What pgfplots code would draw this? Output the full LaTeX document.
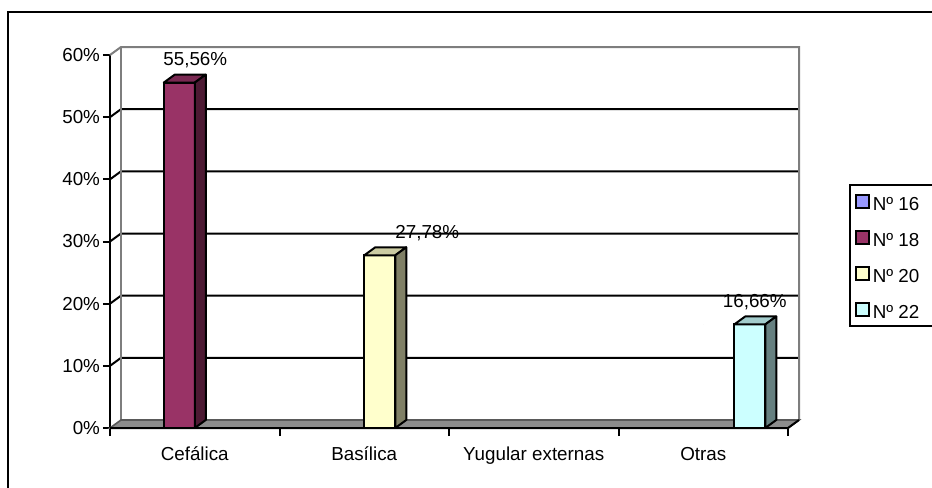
\documentclass[border=0pt]{standalone}
\usepackage{fontspec}
\setmainfont{Liberation Sans}
\usepackage{pgfplots}
\pgfplotsset{compat=1.18}

\definecolor{c16}{HTML}{9999FF}
\definecolor{c18}{HTML}{993366}
\definecolor{c18top}{HTML}{7A2952}
\definecolor{c18side}{HTML}{4D1A33}
\definecolor{c20}{HTML}{FFFFCC}
\definecolor{c20top}{HTML}{CCCCA3}
\definecolor{c20side}{HTML}{808066}
\definecolor{c22}{HTML}{CCFFFF}
\definecolor{c22top}{HTML}{A3CCCC}
\definecolor{c22side}{HTML}{668080}
\definecolor{wall}{HTML}{8C8C8C}

% depth of the walls and of the columns
\tikzset{dep/.style={shift={(5.5bp,4bp)}}}

\pgfplotsset{
  % top and side faces of a column, drawn at the column's top point
  prism/.style n args={3}{%
    forget plot, only marks, scatter, mark=*, mark size=0pt,
    mark options={draw=none, fill=none},
    visualization depends on={rawy \as \ry},
    scatter/@pre marker code/.code={%
      \pgfmathsetlengthmacro\hh{\ry*3.108333bp}%
      \pgfmathsetlengthmacro\xa{#1-7.75bp}%
      \pgfmathsetlengthmacro\xb{#1+7.75bp}%
      \pgfmathsetlengthmacro\xc{#1+13.25bp}%
      \pgfmathsetlengthmacro\xd{#1-2.25bp}%
      \pgfmathsetlengthmacro\yb{4bp-\hh}%
      \filldraw[fill=#2, draw=black, line width=1bp, line join=round]
        (\xa,0bp) -- (\xb,0bp) -- (\xc,4bp) -- (\xd,4bp) -- cycle;
      \filldraw[fill=#3, draw=black, line width=1bp, line join=round]
        (\xb,0bp) -- (\xc,4bp) -- (\xc,\yb) -- (\xb,-\hh) -- cycle;
    },
    scatter/@post marker code/.code={},
  },
  column/.style n args={3}{% shift, fill, label offset
    ybar, forget plot, bar width=15.5bp, bar shift=#1,
    fill=#2, draw=black, line width=1bp,
    nodes near coords={\pgfmathprintnumber[fixed,fixed zerofill,precision=2,use comma]{\pgfplotspointmeta}\%},
    nodes near coords align={anchor=base},
    every node near coord/.append style={xshift=#3, yshift=8.5bp, inner sep=0pt},
  },
  sq/.style={legend image code/.code={%
    \draw[fill=#1, draw=black, line width=0.9bp] (0bp,-3.25bp) rectangle (6.5bp,3.25bp);}},
}
\newcommand\entry[1]{\makebox[34bp][l]{#1}}

\begin{document}
\begin{tikzpicture}[font=\fontsize{9.4bp}{11bp}\selectfont]
\useasboundingbox (0,0) rectangle (466bp,-244bp);
\clip (0,0) rectangle (466bp,-244bp);
% outer frame
\draw[line width=1.1bp] (4bp,-6bp) rectangle (480bp,-262bp);

\begin{axis}[
  at={(55bp,-214bp)}, anchor=south west,
  scale only axis, width=339bp, height=186.5bp,
  xmin=-0.5, xmax=3.5, ymin=0, ymax=60,
  clip=false,
  axis x line*=bottom, axis y line*=left,
  axis line style={black, line width=1bp, -},
  xtick={0,1,2,3},
  xticklabels={Cefálica, Basílica, Yugular externas, Otras},
  major x tick style={draw=none},
  minor xtick={-0.5,0.5,1.5,2.5,3.5},
  minor tick length=4bp,
  ytick={0,10,...,60},
  yticklabel={\pgfmathprintnumber{\tick}\%},
  major tick length=3.5bp,
  tick align=outside,
  tick style={black, line width=1bp},
  /pgf/number format/assume math mode=true,
  xticklabel style={anchor=base, yshift=-12.5bp},
  yticklabel style={xshift=2bp},
  legend style={
    at={(1.090,0.654)}, anchor=north west,
    draw=black, line width=1bp, fill=white,
    inner xsep=2.5bp, inner ysep=2.25bp, row sep=6bp,
    nodes={inner ysep=0pt, inner xsep=1.5bp, text height=10.5bp, text depth=1.5bp},
  },
  legend cell align=left,
]
% walls
\pgfplotsinvokeforeach{10,20,30,40,50}{%
  \draw[black, line width=1bp] (axis cs:-0.5,#1) -- ([dep]axis cs:-0.5,#1) -- ([dep]axis cs:3.5,#1);
}
\draw[wall!90!black, line width=1bp] (axis cs:-0.5,60) -- ([dep]axis cs:-0.5,60)
  -- ([dep]axis cs:3.5,60) -- ([dep]axis cs:3.5,0);
\draw[wall!90!black, line width=1bp] ([dep]axis cs:-0.5,60) -- ([dep]axis cs:-0.5,0);
% floor
\filldraw[fill=wall, draw=black!65, line width=0.8bp] (axis cs:-0.5,0) -- (axis cs:3.5,0)
  -- ([dep]axis cs:3.5,0) -- ([dep]axis cs:-0.5,0) -- cycle;
\draw[black, line width=1bp] (axis cs:-0.5,0) -- (axis cs:3.5,0) -- ([dep]axis cs:3.5,0);

% legend
\addlegendimage{sq=c16}\addlegendentry{\entry{Nº 16}}
\addlegendimage{sq=c18}\addlegendentry{\entry{Nº 18}}
\addlegendimage{sq=c20}\addlegendentry{\entry{Nº 20}}
\addlegendimage{sq=c22}\addlegendentry{\entry{Nº 22}}

% Nº 18
\addplot[column={-7.75bp}{c18}{0.25bp}] coordinates {(0,55.56)};
\addplot[prism={-7.75bp}{c18top}{c18side}] coordinates {(0,55.56)};
% Nº 20
\addplot[column={7.75bp}{c20}{31.5bp}] coordinates {(1,27.78)};
\addplot[prism={7.75bp}{c20top}{c20side}] coordinates {(1,27.78)};
% Nº 22
\addplot[column={23.25bp}{c22}{25.75bp}] coordinates {(3,16.66)};
\addplot[prism={23.25bp}{c22top}{c22side}] coordinates {(3,16.66)};
\end{axis}
\end{tikzpicture}
\end{document}
